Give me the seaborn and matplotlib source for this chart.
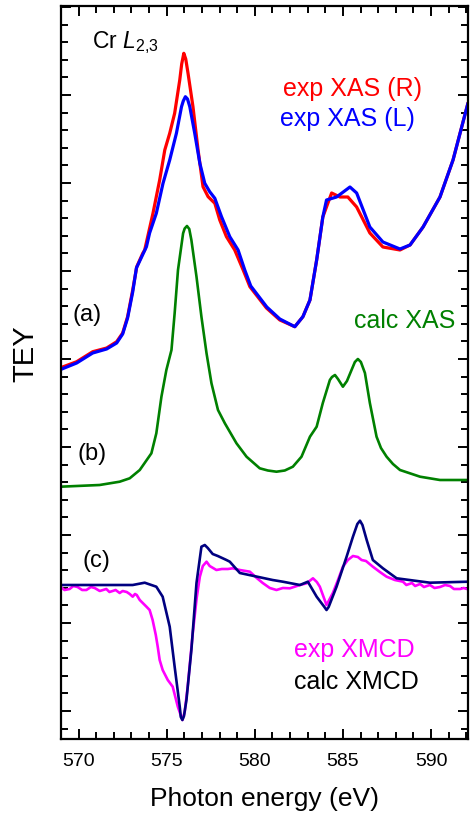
import numpy as np
import pandas as pd
import matplotlib
matplotlib.use("Agg")
import matplotlib.pyplot as plt
from matplotlib.ticker import MultipleLocator, FixedLocator
import seaborn as sns

# ---------------- data (photon energy in eV, TEY in arbitrary units) ----------------
exp_R_E = [568.98, 569.89, 570.80, 571.59, 572.16, 572.50, 572.78, 573.07, 573.30, 573.64, 573.75,
           574.22, 574.60, 574.89, 575.17, 575.45, 575.74, 575.85, 575.97, 576.08, 576.21, 576.49,
           576.78, 577.06, 577.35, 577.73, 578.01, 578.39, 578.86, 579.34, 579.72, 580.66, 581.42,
           582.27, 582.73, 583.13, 583.51, 583.86, 584.36, 584.83, 585.28, 585.78, 586.53, 587.27,
           588.24, 588.81, 589.55, 590.51, 591.25, 592.10]
exp_R_I = [343.3, 349.3, 359.3, 363, 369.3, 378, 394.3, 421, 444.3, 457.7, 461,
           497.7, 531, 561, 577.7, 597.7, 631, 647, 657.7, 652, 637.7, 604.3,
           561, 524.3, 514.3, 507.7, 491, 474.3, 461, 441, 424.3, 403, 391,
           384.3, 394.3, 411, 451, 494, 518, 514, 514, 504, 478, 464,
           461, 466, 484, 514, 551, 608]

exp_L_E = [568.98, 569.89, 570.80, 571.59, 572.16, 572.50, 572.78, 573.07, 573.28, 573.85, 574.03,
           574.41, 574.79, 575.17, 575.55, 575.84, 575.94, 576.06, 576.18, 576.31, 576.59, 576.88,
           577.16, 577.44, 577.73, 578.11, 578.58, 579.05, 579.43, 579.77, 580.68, 581.42, 582.27,
           582.73, 583.13, 583.51, 583.86, 584.07, 584.64, 585.40, 585.78, 586.53, 587.27, 588.24,
           588.81, 589.55, 590.51, 591.25, 592.10]
exp_L_I = [341.5, 348, 358, 362, 368, 377, 393, 419, 443, 464.3, 478,
           497.7, 527.7, 551, 577.7, 604.3, 610, 614.3, 612, 604.3, 577.7, 547.7,
           527.7, 519.3, 512.7, 494.3, 474.3, 461, 441, 425, 404, 392, 384.3,
           394.3, 411, 451, 494, 511, 514, 524, 518, 484, 469, 462,
           466, 484, 514, 551, 608]

calc_xas_E = [568.98, 571.19, 572.33, 572.90, 573.47, 574.13, 574.41, 574.70, 574.98, 575.27, 575.45,
              575.64, 575.93, 576.02, 576.15, 576.28, 576.40, 576.69, 576.97, 577.26, 577.54, 577.91,
              578.30, 578.96, 579.53, 580.28, 580.74, 581.23, 581.70, 582.16, 582.65, 583.13, 583.51,
              583.86, 584.26, 584.38, 584.55, 584.72, 585.00, 585.23, 585.49, 585.68, 585.85, 586.02,
              586.25, 586.53, 586.91, 587.16, 587.48, 587.84, 588.24, 589.38, 590.51, 592.10]
calc_xas_I = [224.3, 226, 229.3, 232.7, 241, 257.7, 277.7, 314.3, 341, 361, 397.7,
              441, 477.7, 482.5, 485, 482, 471, 434.3, 394.3, 357.7, 327.7, 301,
              287.7, 267.7, 254.3, 242.7, 240.5, 239.3, 240.5, 244.3, 254.3, 274.3, 284.3,
              308, 331, 334, 336, 332, 324.3, 330, 341, 349, 352, 349,
              338, 308, 274.3, 263, 254.3, 247, 241, 234.3, 231, 231]

calc_xmcd_E = [568.98, 573.07, 573.75, 574.41, 574.77, 575.17, 575.45, 575.74, 575.80, 575.89, 575.98,
               576.12, 576.40, 576.69, 576.97, 577.16, 577.33, 577.61, 577.90, 578.39, 578.58, 579.15,
               581.01, 581.59, 582.56, 583.01, 583.51, 583.95, 584.07, 584.19, 584.64, 585.21, 585.57,
               585.82, 585.97, 586.11, 586.35, 586.70, 587.27, 588.05, 589.94, 592.10]
calc_xmcd_I = [126, 126, 128.3, 124.3, 114.3, 84.3, 44.3, 4.3, -6, -9, -5,
               11, 61, 128, 164.3, 166, 163, 157, 155, 151, 149.3, 138,
               131, 129.3, 126, 129.3, 114.3, 104, 101, 104, 124.3, 154.3, 174.3,
               187, 190.3, 186, 171, 151, 142.7, 132.7, 128.3, 129.3]

exp_xmcd_E = [568.98, 569.20, 569.49, 569.70, 569.94, 570.20, 570.44, 570.70, 570.91, 571.20, 571.57,
              571.75, 571.93, 572.10, 572.33, 572.50, 572.73, 572.90, 573.07, 573.20, 573.30,
              573.47, 573.85, 574.03, 574.20, 574.38, 574.49, 574.60, 574.77, 575.06, 575.34, 575.63,
              575.89, 576.02, 576.19, 576.48, 576.70, 576.88, 577.05, 577.26, 577.44, 577.82, 578.13,
              578.47, 578.75, 579.15, 579.72, 580.11, 580.45, 580.85, 581.23, 581.59, 581.99, 582.56,
              582.94, 583.30, 583.52, 583.69, 584.07, 584.43, 584.72, 585.00, 585.28, 585.57, 585.85,
              586.06, 586.31, 586.70, 587.10, 587.48, 587.95, 588.41, 588.60, 588.92, 589.10, 589.38,
              589.60, 589.94, 590.20, 590.51, 590.80, 591.08, 591.30, 591.65, 591.85, 592.10]
exp_xmcd_I = [124, 121, 122, 125, 124, 121, 121, 124, 123, 120, 122,
              119, 120, 121, 118, 120, 119, 117, 114.3, 117, 116,
              111, 104.3, 101, 91, 76, 64.3, 51, 41, 31, 24.3, 4.3,
              -9, -1, 24.3, 78, 113, 134.3, 145, 149.3, 145, 141, 142,
              142, 142.7, 141, 139.3, 133, 128, 123, 121, 123, 122.7, 126,
              127.7, 132.7, 129, 124.3, 106, 118, 131, 144.3, 151, 155, 154,
              151, 150, 144.3, 139, 134.3, 131, 129.3, 126, 128, 125, 127,
              124, 126, 123, 124, 126, 125, 122, 122, 123, 121.7]

def frame(E, I, name):
    return pd.DataFrame({"E": E, "I": I, "series": name})

# ---------------- style ----------------
sns.set_style("ticks")
plt.rcParams["font.family"] = ["Liberation Sans", "DejaVu Sans"]
plt.rcParams["mathtext.fontset"] = "custom"
plt.rcParams["mathtext.rm"] = "Liberation Sans"
plt.rcParams["mathtext.it"] = "Liberation Sans:italic"
for k in ["text.color", "axes.labelcolor", "xtick.color", "ytick.color", "axes.edgecolor"]:
    plt.rcParams[k] = "black"

fig = plt.figure(figsize=(4.74, 8.17), dpi=100)
ax = fig.add_axes([61 / 474, 78 / 817, 407 / 474, 733 / 817])

series = [
    (exp_R_E, exp_R_I, "exp XAS (R)", "#ff0000", 2.3),
    (exp_L_E, exp_L_I, "exp XAS (L)", "#0000ff", 2.3),
    (calc_xas_E, calc_xas_I, "calc XAS", "#008000", 1.9),
    (exp_xmcd_E, exp_xmcd_I, "exp XMCD", "#ff00ff", 1.9),
    (calc_xmcd_E, calc_xmcd_I, "calc XMCD", "#000080", 1.9),
]
for E, I, name, col, lw in series:
    sns.lineplot(data=frame(E, I, name), x="E", y="I", color=col, lw=lw,
                 sort=False, ax=ax, legend=False)

ax.set_xlim(569, 592.1)
ax.set_ylim(-28, 705)

ax.xaxis.set_major_locator(FixedLocator([570, 575, 580, 585, 590]))
ax.xaxis.set_minor_locator(MultipleLocator(1))
ax.yaxis.set_major_locator(MultipleLocator(88))
ax.yaxis.set_minor_locator(MultipleLocator(17.6))
ax.tick_params(which="both", direction="in", top=True, right=True, width=1.4, color="black")
ax.tick_params(which="major", length=7.5)
ax.tick_params(which="minor", length=4.8)
ax.tick_params(axis="x", which="major", labelsize=14, pad=10, labelcolor="black")
ax.tick_params(axis="y", labelleft=False)
for s in ax.spines.values():
    s.set_linewidth(1.6)
    s.set_color("black")

ax.set_xlabel("Photon energy (eV)", fontsize=19, labelpad=12, color="black")
ax.set_ylabel("TEY", fontsize=21, color="black")
ax.yaxis.set_label_coords(-0.052, 0.526)

t = ax.transAxes
ax.text(0.076, 0.9495, r"Cr $\mathit{L}_{\mathrm{2{,}3}}$", transform=t, fontsize=16.5,
        ha="left", va="center", color="black")
ax.text(0.715, 0.887, "exp XAS (R)", transform=t, fontsize=18, color="#ff0000",
        ha="center", va="center")
ax.text(0.705, 0.846, "exp XAS (L)", transform=t, fontsize=18, color="#0000ff",
        ha="center", va="center")
ax.text(0.064, 0.578, "(a)", transform=t, fontsize=17, ha="center", va="center", color="black")
ax.text(0.076, 0.389, "(b)", transform=t, fontsize=17, ha="center", va="center", color="black")
ax.text(0.845, 0.570, "calc XAS", transform=t, fontsize=18, color="#008000",
        ha="center", va="center")
ax.text(0.088, 0.243, "(c)", transform=t, fontsize=17, ha="center", va="center", color="black")
ax.text(0.720, 0.121, "exp XMCD", transform=t, fontsize=18, color="#ff00ff",
        ha="center", va="center")
ax.text(0.725, 0.078, "calc XMCD", transform=t, fontsize=18, color="black",
        ha="center", va="center")

fig.savefig("out.png", dpi=100)
